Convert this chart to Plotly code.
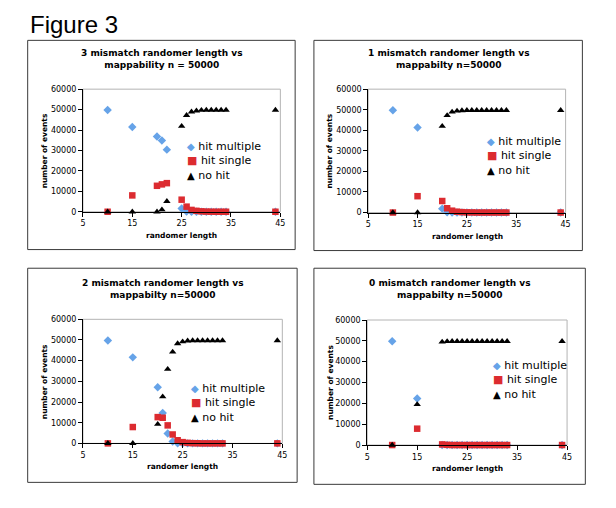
import plotly.graph_objects as go

# ---------------- data ----------------
panel_titles = [
    "3 mismatch randomer length vs<br>mappability n = 50000",
    "1 mismatch randomer length vs<br>mappabilty n=50000",
    "2 mismatch randomer length vs<br>mappabilty n=50000",
    "0 mismatch randomer length vs<br>mappabilty n=50000",
]
series_names = ["hit multiple", "hit single", "no hit"]

# 3 mismatch
len_3mm = [10, 15, 20, 21, 22, 25, 26, 27, 28, 29, 30, 31, 32, 33, 34, 44]
multi_3mm = [49800, 41500, 36800, 34900, 30400, 1600, 100, 0, 0, 0, 0, 0, 0, 0, 0, 0]
single_3mm = [0, 8000, 12700, 13400, 14000, 5900, 2500, 900, 450, 200, 80, 30, 0, 0, 0, 0]
nohit_3mm = [0, 0, 0, 1000, 5100, 41900, 47200, 48900, 49400, 49700, 49800, 49800, 49800, 49800, 49800, 49800]

# 1 mismatch
len_1mm = [10, 15, 20, 21, 22, 23, 24, 25, 26, 27, 28, 29, 30, 31, 32, 33, 44]
multi_1mm = [49700, 41400, 1900, 100, 0, 0, 0, 0, 0, 0, 0, 0, 0, 0, 0, 0, 0]
single_1mm = [0, 7950, 5600, 2100, 900, 400, 200, 100, 50, 0, 0, 0, 0, 0, 0, 0, 0]
nohit_1mm = [0, 0, 42000, 47200, 48900, 49400, 49600, 49700, 49700, 49700, 49700, 49700, 49700, 49700, 49700, 49700, 49700]

# 2 mismatch
len_2mm = [10, 15, 20, 21, 22, 23, 24, 25, 26, 27, 28, 29, 30, 31, 32, 33, 44]
multi_2mm = [49800, 41600, 27100, 14700, 4800, 950, 100, 0, 0, 0, 0, 0, 0, 0, 0, 0, 0]
single_2mm = [0, 7900, 12700, 12400, 8700, 4300, 1500, 600, 250, 100, 50, 0, 0, 0, 0, 0, 0]
nohit_2mm = [0, 0, 9300, 22600, 35900, 44200, 48300, 49200, 49600, 49700, 49700, 49700, 49700, 49700, 49700, 49700, 49700]

# 0 mismatch
len_0mm = [10, 15, 20, 21, 22, 23, 24, 25, 26, 27, 28, 29, 30, 31, 32, 33, 44]
multi_0mm = [49800, 22300, 0, 0, 0, 0, 0, 0, 0, 0, 0, 0, 0, 0, 0, 0, 0]
single_0mm = [0, 7850, 300, 100, 0, 0, 0, 0, 0, 0, 0, 0, 0, 0, 0, 0, 0]
nohit_0mm = [0, 19500, 49500, 49700, 49800, 49800, 49800, 49800, 49800, 49800, 49800, 49800, 49800, 49800, 49800, 49800, 49800]

x_ticks = [5, 15, 25, 35, 45]
y_ticks = [0, 10000, 20000, 30000, 40000, 50000, 60000]

panels = [
    (len_3mm, multi_3mm, single_3mm, nohit_3mm),
    (len_1mm, multi_1mm, single_1mm, nohit_1mm),
    (len_2mm, multi_2mm, single_2mm, nohit_2mm),
    (len_0mm, multi_0mm, single_0mm, nohit_0mm),
]

# ---------------- styling / layout ----------------
W, H = 616, 508
BLUE = "#66a3e8"
RED = "#dc2b30"
BLACK = "#000000"
FONT = "DejaVu Sans"


def fx(px):
    return px / W


def fy(py):
    return 1 - py / H


# plot areas in pixels: (x0, x1, ytop, ybottom)
plot_px = [
    (81, 281, 86.7, 211.5),
    (370, 570, 86.7, 212.3),
    (81, 283, 321, 447.3),
    (369, 571.5, 321.7, 449),
]
# panel borders (x0, y0, x1, y1)
box_px = [
    (25, 37, 296, 250),
    (315, 37, 587, 251),
    (25, 269, 298, 487),
    (315, 269, 590, 489),
]
title_px = [(161, 56), (452, 56), (162, 290), (453, 290.5)]
xtitle_px = [(181, 235.5), (471, 236.5), (182, 471), (471, 473)]
ytitle_px = [(41.5, 149), (331, 149.5), (41.5, 384), (331, 385)]
legend_px = [(184, 160), (488.5, 154.5), (188, 406.5), (494, 382.5)]

fig = go.Figure()

styles = [
    dict(symbol="diamond", size=6.5, color=BLUE),
    dict(symbol="square", size=6.5, color=RED),
    dict(symbol="triangle-up", size=6.5, color=BLACK),
]

layout_axes = {}
shapes = []
annotations = []

for i, (xs, m, s, n) in enumerate(panels):
    k = "" if i == 0 else str(i + 1)
    for name, ys, st in zip(series_names, (m, s, n), styles):
        fig.add_trace(go.Scatter(
            x=xs, y=ys, mode="markers", name=name,
            marker=dict(symbol=st["symbol"], size=st["size"], color=st["color"],
                        line=dict(width=0)),
            xaxis="x" + k, yaxis="y" + k, showlegend=False, cliponaxis=False,
        ))
    x0, x1, yt, yb = plot_px[i]
    layout_axes["xaxis" + k] = dict(
        domain=[fx(x0), fx(x1)], range=[5, 45], tickvals=x_ticks,
        showline=True, linecolor="#000000", linewidth=1, ticks="outside",
        ticklen=4, tickcolor="#000000", showgrid=False, zeroline=False,
        tickfont=dict(family=FONT, size=8, color="#000000"),
        anchor="y" + k, fixedrange=True,
    )
    layout_axes["yaxis" + k] = dict(
        domain=[fy(yb), fy(yt)], range=[0, 60000], tickvals=y_ticks, tickformat="d",
        showline=True, linecolor="#000000", linewidth=1, ticks="outside",
        ticklen=4, tickcolor="#000000", showgrid=False, zeroline=False,
        tickfont=dict(family=FONT, size=8, color="#000000"),
        anchor="x" + k, fixedrange=True,
    )
    # gray plot-area frame (top/right)
    shapes.append(dict(type="rect", xref="x" + k + " domain", yref="y" + k + " domain",
                       x0=0, x1=1, y0=0, y1=1, line=dict(color="#b4b4b4", width=1),
                       layer="below"))
    # panel border
    bx0, by0, bx1, by1 = box_px[i]
    shapes.append(dict(type="rect", xref="paper", yref="paper",
                       x0=fx(bx0), x1=fx(bx1), y0=fy(by1), y1=fy(by0),
                       line=dict(color="#3a3a3a", width=1)))
    # titles
    tx, ty = title_px[i]
    annotations.append(dict(text="<b>" + panel_titles[i] + "</b>", x=fx(tx), y=fy(ty),
                            xref="paper", yref="paper", showarrow=False,
                            xanchor="center", yanchor="middle",
                            font=dict(family=FONT, size=9, color="#000000")))
    ax, ay = xtitle_px[i]
    annotations.append(dict(text="<b>randomer length</b>", x=fx(ax), y=fy(ay),
                            xref="paper", yref="paper", showarrow=False,
                            xanchor="center", yanchor="middle",
                            font=dict(family=FONT, size=7.5, color="#000000")))
    vx, vy = ytitle_px[i]
    annotations.append(dict(text="<b>number of events</b>", x=fx(vx), y=fy(vy),
                            xref="paper", yref="paper", showarrow=False, textangle=-90,
                            xanchor="center", yanchor="middle",
                            font=dict(family=FONT, size=7.5, color="#000000")))
    # legend (drawn as text block)
    lx, ly = legend_px[i]
    legend_text = (
        f"<span style='color:{BLUE};font-size:10px'>◆</span> {series_names[0]}<br>"
        f"<span style='color:{RED};font-size:11px'>■</span> {series_names[1]}<br>"
        f"<span style='color:{BLACK};font-size:10px'>▲</span> {series_names[2]}"
    )
    annotations.append(dict(text=legend_text, x=fx(lx), y=fy(ly), xref="paper", yref="paper",
                            showarrow=False, xanchor="left", yanchor="middle", align="left",
                            font=dict(family=FONT, size=11, color="#000000")))

annotations.append(dict(text="Figure 3", x=fx(25), y=fy(21), xref="paper", yref="paper",
                        showarrow=False, xanchor="left", yanchor="middle",
                        font=dict(family="Liberation Sans", size=24, color="#000000")))

fig.update_layout(
    width=W, height=H, margin=dict(l=0, r=0, t=0, b=0),
    paper_bgcolor="white", plot_bgcolor="white", showlegend=False,
    shapes=shapes, annotations=annotations, **layout_axes,
)

fig.write_html("out.html", config={"displayModeBar": False},
               post_script="document.body.style.margin='0px';")
